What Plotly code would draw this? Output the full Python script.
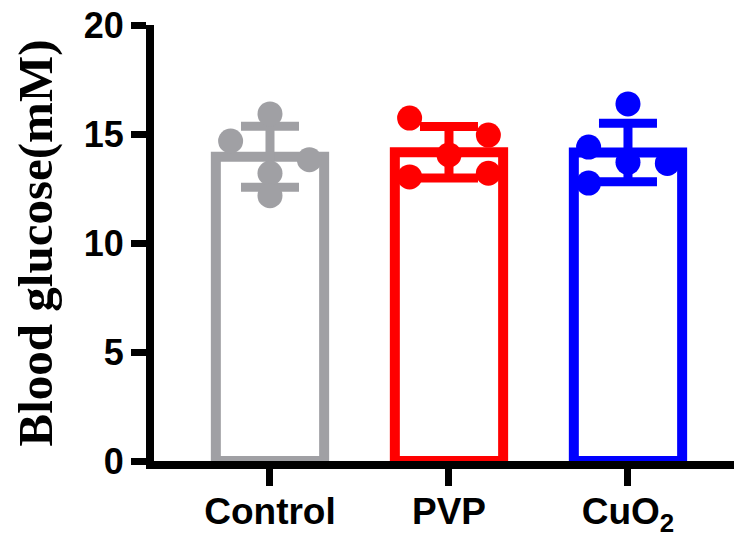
import plotly.graph_objects as go

categories = ["Control", "PVP", "CuO<sub>2</sub>"]
means = [13.96, 14.16, 14.15]
sds = [1.40, 1.18, 1.34]
dot_values = [
    [14.68, 15.92, 13.82, 13.20, 12.17],
    [15.73, 14.95, 14.04, 13.03, 13.20],
    [16.38, 14.40, 13.70, 13.65, 12.75],
]
dot_offsets = [
    [-0.22, 0.0, 0.22, 0.0, 0.0],
    [-0.22, 0.22, 0.0, -0.22, 0.22],
    [0.0, -0.22, 0.0, 0.22, -0.22],
]
y_ticks = [0, 5, 10, 15, 20]
colors = ["#A0A0A4", "#FF0000", "#0000FF"]

fig = go.Figure()
for i, cat in enumerate(categories):
    fig.add_trace(go.Bar(
        x=[i], y=[means[i]], width=0.605,
        marker=dict(color="rgba(255,255,255,0)", line=dict(color=colors[i], width=10)),
        error_y=dict(type="data", array=[sds[i]], visible=True,
                     color=colors[i], thickness=9, width=29),
        showlegend=False, hoverinfo="skip",
    ))
for i, cat in enumerate(categories):
    fig.add_trace(go.Scatter(
        x=[i + o for o in dot_offsets[i]], y=dot_values[i], mode="markers",
        marker=dict(color=colors[i], size=25, line=dict(width=0)),
        showlegend=False, hoverinfo="skip",
    ))

# page body adds an 8px margin, so the figure is 8px smaller and offsets are shifted
fig.update_layout(
    width=734, height=533,
    margin=dict(l=146, r=0, t=17, b=80),
    paper_bgcolor="white", plot_bgcolor="white",
    barmode="overlay",
    xaxis=dict(
        range=[-0.648, 2.637], tickmode="array", tickvals=[0, 1, 2], ticktext=categories,
        showline=True, linecolor="black", linewidth=8,
        ticks="outside", ticklen=17, tickwidth=7, tickcolor="black",
        showgrid=False, zeroline=False, automargin=False, ticklabelstandoff=-6,
        ticklabeloverflow="allow",
        tickfont=dict(family="Arial, Liberation Sans", size=37, color="black", weight="bold"),
    ),
    yaxis=dict(
        range=[0, 20], tickmode="array", tickvals=y_ticks, ticktext=[str(t) for t in y_ticks],
        showline=True, linecolor="black", linewidth=8,
        ticks="outside", ticklen=15, tickwidth=7, tickcolor="black",
        showgrid=False, zeroline=False, automargin=False, ticklabeloverflow="allow",
        tickfont=dict(family="Arial, Liberation Sans", size=36, color="black", weight="bold"),
        title=dict(text="Blood glucose(mM)", standoff=22,
                   font=dict(family="Times New Roman, Liberation Serif", size=49, color="black", weight="bold")),
    ),
)

fig.write_html("out.html")
